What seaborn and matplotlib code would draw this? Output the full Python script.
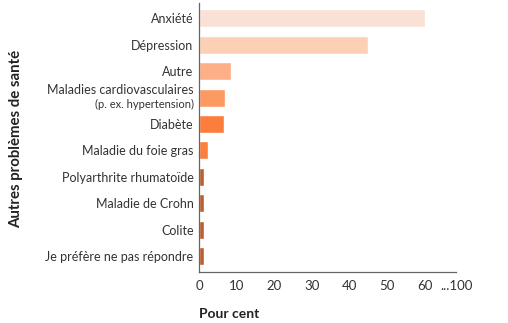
import matplotlib
matplotlib.use("Agg")
import matplotlib.pyplot as plt
import matplotlib.transforms as mtransforms
import seaborn as sns
import pandas as pd

categories = [
    "Anxiété",
    "Dépression",
    "Autre",
    "Maladies cardiovasculaires\n(p. ex. hypertension)",
    "Diabète",
    "Maladie du foie gras",
    "Polyarthrite rhumatoïde",
    "Maladie de Crohn",
    "Colite",
    "Je préfère ne pas répondre",
]
values = [60, 45, 8.5, 7, 6.7, 2.4, 1.2, 1.2, 1.2, 1.2]
colors = ["#F9E1D5", "#FDD0B6", "#FDB087", "#FD9A62", "#FC7D3C",
          "#FC7F3C", "#BF5F2E", "#BF5F2E", "#BF5F2E", "#BF5F2E"]
x_ticks = [0, 10, 20, 30, 40, 50, 60, 68.4]
x_tick_labels = ["0", "10", "20", "30", "40", "50", "60", "...100"]

sns.set_theme(style="white")
plt.rcParams["font.family"] = ["Lato", "DejaVu Sans"]

df = pd.DataFrame({"cat": categories, "val": values})

fig = plt.figure(figsize=(5.08, 3.23), dpi=100)
ax = fig.add_axes([0.392, 0.158, 0.506, 0.832])

sns.barplot(data=df, x="val", y="cat", hue="cat", palette=colors,
            legend=False, orient="h", width=0.68, ax=ax, saturation=1)

ax.set_xlim(0, 68.4)
ax.set_ylim(9.6, -0.57)
ax.set_xticks(x_ticks)
ax.set_xticklabels(x_tick_labels)
ax.tick_params(axis="x", direction="in", length=7, width=0.9,
               color="#666666", labelsize=9.5, labelcolor="#333333", pad=6)
ax.tick_params(axis="y", length=0, labelsize=9, labelcolor="#333333", pad=4)

for side in ["top", "right"]:
    ax.spines[side].set_visible(False)
for side in ["left", "bottom"]:
    ax.spines[side].set_color("#666666")
    ax.spines[side].set_linewidth(0.9)

# two-size label for the cardiovascular row
labels = [t.get_text() for t in ax.get_yticklabels()]
idx = categories.index("Maladies cardiovasculaires\n(p. ex. hypertension)")
labels[idx] = ""
ax.set_yticklabels(labels)
trans = mtransforms.blended_transform_factory(ax.transAxes, ax.transData)
offset_main = mtransforms.ScaledTranslation(-4 / 72, 0, fig.dpi_scale_trans)
main, sub = categories[idx].split("\n")
ax.text(0, idx - 0.28, main, transform=trans + offset_main, ha="right",
        va="center", fontsize=9, color="#333333")
ax.text(0, idx + 0.27, sub, transform=trans + offset_main, ha="right",
        va="center", fontsize=8, color="#333333")

ax.set_xlabel("Pour cent", fontsize=10, fontweight="bold", color="#222222",
              loc="left", labelpad=11)
ax.set_ylabel("")
fig.text(0.032, 0.57, "Autres problèmes de santé", rotation=90, ha="center",
         va="center", fontsize=10.8, fontweight="bold", color="#222222")

fig.savefig("out.png", dpi=100)
